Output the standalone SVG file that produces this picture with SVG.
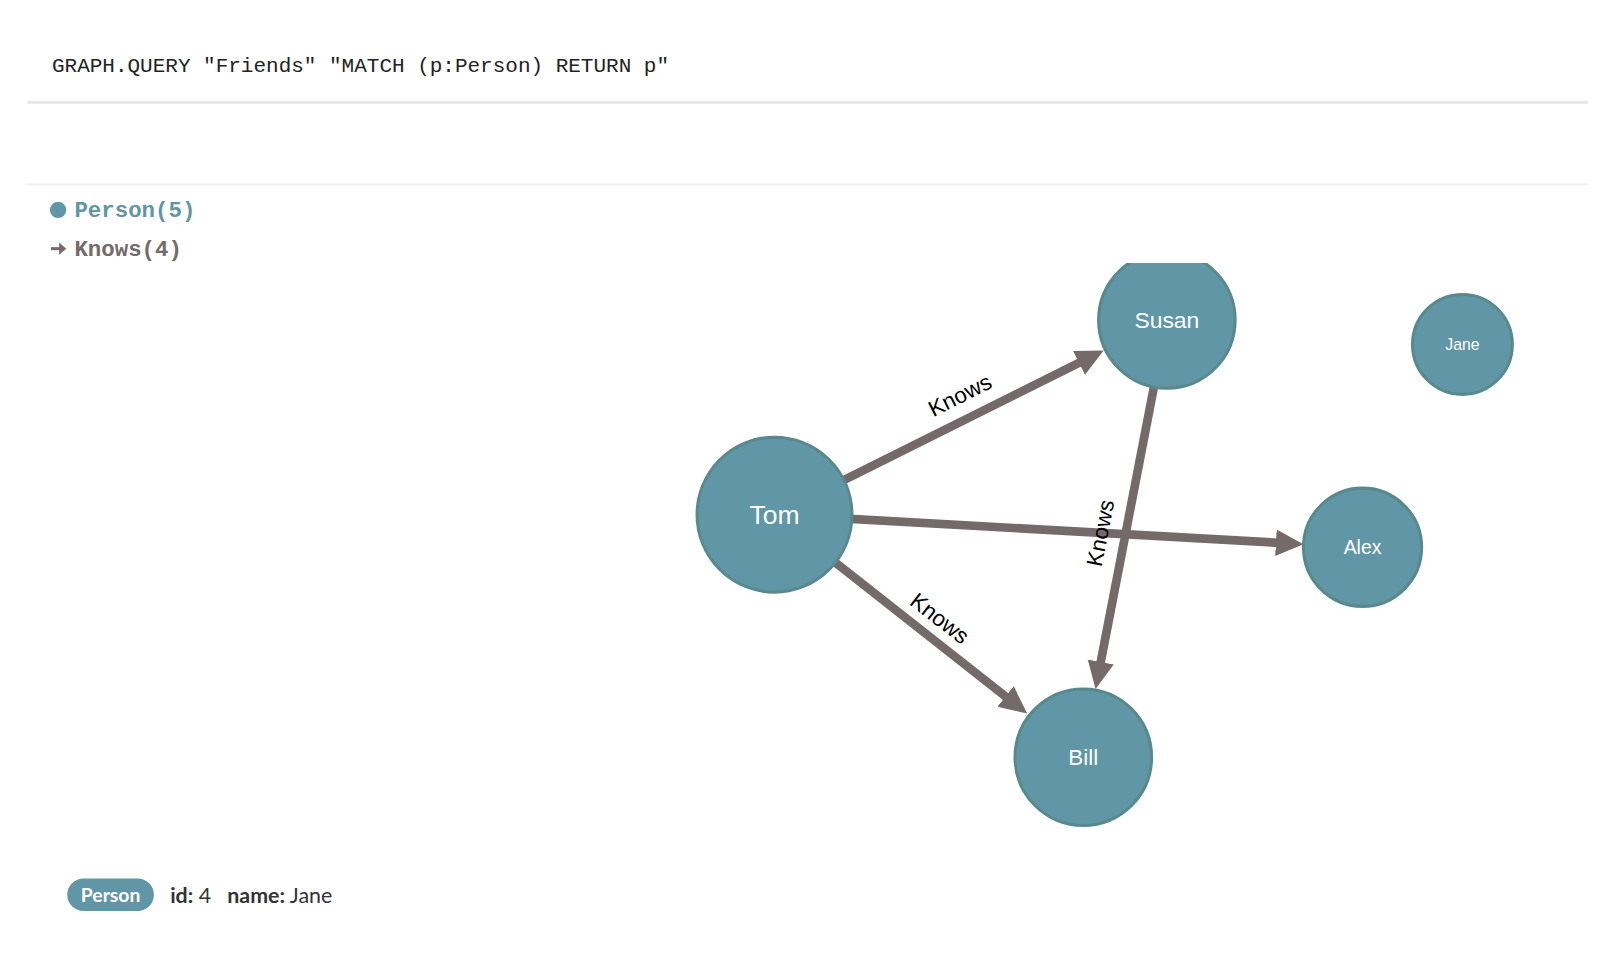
<svg xmlns="http://www.w3.org/2000/svg" width="1598" height="970" viewBox="0 0 1598 970">
<defs>
<style>
.node circle{fill:#6096a5;stroke:#58898c;stroke-width:3}
.node text{fill:#fff;font-family:"Liberation Sans",Arial,sans-serif;text-anchor:middle;dominant-baseline:central}
.edge line{stroke:#756a6a;stroke-width:8.5}
.elabel{fill:#000;font-family:"Liberation Sans",Arial,sans-serif;font-size:22px;text-anchor:middle;dominant-baseline:central}
.mono{font-family:"Liberation Mono","Courier New",monospace}
.sans{font-family:Lato,"Open Sans","Liberation Sans",sans-serif}
</style>
<marker id="arr" markerUnits="userSpaceOnUse" markerWidth="30" markerHeight="30" refX="7" refY="13" orient="auto">
<path d="M0,0 L27,13 L0,26 z" fill="#756a6a"/>
</marker>
<clipPath id="gclip"><rect x="0" y="258" width="1598" height="600"/></clipPath>
</defs>
<rect width="1598" height="970" fill="#fff"/>
<g transform="scale(1.0191)">
<text x="51" y="71" class="mono" font-size="20.6" fill="#222">GRAPH.QUERY "Friends" "MATCH (p:Person) RETURN p"</text>
<rect x="27" y="99" width="1531" height="3" fill="#e8e8e8"/>
<rect x="27" y="180" width="1531" height="2" fill="#efefef"/>
<g id="legend">
<circle cx="57" cy="206" r="8" fill="#6096a5"/>
<text x="73" y="213" class="mono" font-size="22" font-weight="bold" fill="#6096a5">Person(5)</text>
<path d="M50,244 L62,244" stroke="#756a6a" stroke-width="3"/>
<path d="M58,238 L65,244 L58,250 z" fill="#756a6a"/>
<text x="73" y="251" class="mono" font-size="22" font-weight="bold" fill="#756a6a">Knows(4)</text>
</g>
<g clip-path="url(#gclip)">
<g id="connectors" class="edge">
<line x1="760" y1="505" x2="1065.1" y2="352.9" marker-end="url(#arr)"/>
<line x1="760" y1="505" x2="1259" y2="532.9" marker-end="url(#arr)"/>
<line x1="760" y1="505" x2="992.2" y2="687.7" marker-end="url(#arr)"/>
<line x1="1145" y1="314" x2="1078.8" y2="656.4" marker-end="url(#arr)"/>
<text class="elabel" transform="translate(942,388) rotate(-26.5)">Knows</text>
<text class="elabel" transform="translate(922,607) rotate(38)">Knows</text>
<text class="elabel" transform="translate(1080,523) rotate(-79)">Knows</text>
</g>
<g id="node-tom" class="node"><circle cx="760" cy="505" r="76"/><text x="760" y="505" font-size="26">Tom</text></g>
<g id="node-susan" class="node"><circle cx="1145" cy="314" r="67"/><text x="1145" y="314" font-size="22.5">Susan</text></g>
<g id="node-jane" class="node"><circle cx="1435" cy="338" r="49"/><text x="1435" y="338" font-size="15.5">Jane</text></g>
<g id="node-alex" class="node"><circle cx="1337" cy="537" r="58"/><text x="1337" y="537" font-size="19">Alex</text></g>
<g id="node-bill" class="node"><circle cx="1063" cy="743" r="67"/><text x="1063" y="743" font-size="22">Bill</text></g>
</g>
<g id="details">
<rect x="66" y="862" width="85" height="32" rx="16" fill="#6096a5"/>
<text x="108.5" y="885" class="sans" font-size="19" font-weight="bold" fill="#fff" text-anchor="middle">Person</text>
<text x="167" y="886" class="sans" font-size="21" fill="#333"><tspan font-weight="bold">id:</tspan> 4<tspan x="223" font-weight="bold">name:</tspan> Jane</text>
</g>
</g>
</svg>
